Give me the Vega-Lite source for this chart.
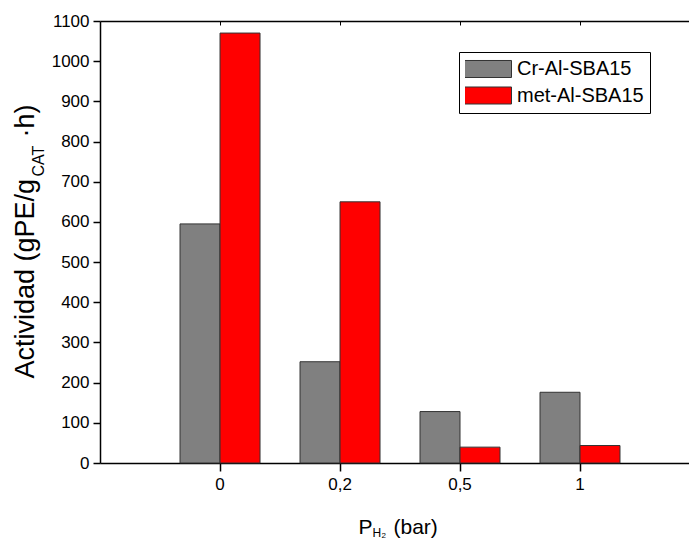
{
  "$schema": "https://vega.github.io/schema/vega-lite/v6.json",
  "width": 589,
  "height": 442,
  "autosize": "none",
  "padding": {"left": 100, "top": 21, "right": 0, "bottom": 77},
  "background": "white",
  "config": {
    "view": {"stroke": null},
    "font": "Liberation Sans",
    "axis": {
      "grid": false,
      "domainColor": "black",
      "tickColor": "black",
      "labelColor": "black",
      "titleColor": "black",
      "labelFont": "Liberation Sans",
      "titleFont": "Liberation Sans",
      "titleFontWeight": "normal"
    }
  },
  "data": {
    "values": [
      {"cat": "0", "series": "Cr-Al-SBA15", "value": 595},
      {"cat": "0", "series": "met-Al-SBA15", "value": 1070},
      {"cat": "0,2", "series": "Cr-Al-SBA15", "value": 252},
      {"cat": "0,2", "series": "met-Al-SBA15", "value": 650},
      {"cat": "0,5", "series": "Cr-Al-SBA15", "value": 128},
      {"cat": "0,5", "series": "met-Al-SBA15", "value": 39.5},
      {"cat": "1", "series": "Cr-Al-SBA15", "value": 176},
      {"cat": "1", "series": "met-Al-SBA15", "value": 43.5}
    ]
  },
  "layer": [
    {
      "mark": {"type": "bar", "stroke": "#333333", "strokeWidth": 1},
      "encoding": {
        "x": {
          "field": "cat", "type": "nominal",
          "scale": {"paddingInner": 0.3333, "paddingOuter": 0.621, "align": 0.537},
          "axis": {"orient": "bottom", "title": null, "labelAngle": 0, "labelFontSize": 17, "tickSize": 8, "tickWidth": 1.5, "domainWidth": 1.5, "labelPadding": 5}
        },
        "xOffset": {"field": "series", "type": "nominal", "scale": {"paddingInner": 0, "paddingOuter": 0}},
        "y": {
          "field": "value", "type": "quantitative",
          "scale": {"domain": [0, 1100], "nice": false},
          "axis": {"orient": "left", "title": null, "format": "d", "values": [0, 100, 200, 300, 400, 500, 600, 700, 800, 900, 1000, 1100], "labelFontSize": 17, "tickSize": 7, "tickWidth": 1.5, "domainWidth": 1.5, "labelPadding": 4}
        },
        "color": {
          "field": "series", "type": "nominal",
          "scale": {"domain": ["Cr-Al-SBA15", "met-Al-SBA15"], "range": ["#808080", "#ff0000"]},
          "legend": {
            "orient": "none", "legendX": 359, "legendY": 31, "title": null,
            "strokeColor": "black", "fillColor": "white", "padding": 6,
            "symbolType": "M-1,-0.362H1V0.362H-1Z", "symbolSize": 2209,
            "symbolStrokeColor": "#333333", "symbolStrokeWidth": 1,
            "symbolOffset": -1, "labelOffset": 5, "clipHeight": 22,
            "labelFontSize": 20, "labelFont": "Liberation Sans", "labelColor": "black",
            "rowPadding": 4.5
          }
        }
      }
    },
    {
      "mark": {"type": "point", "opacity": 0},
      "encoding": {
        "x": {"field": "cat", "type": "nominal", "axis": {"orient": "top", "title": null, "labels": false, "tickSize": -4, "tickWidth": 1, "domainWidth": 1.5}},
        "y": {"field": "value", "type": "quantitative", "axis": {"orient": "left", "domain": false, "ticks": false, "labels": false, "title": "Actividad (gPE/g", "titleX": -67, "titleY": 357, "titleAngle": 270, "titleAlign": "left", "titleBaseline": "alphabetic", "titleFontSize": 27}}
      }
    },
    {
      "mark": {"type": "point", "opacity": 0},
      "encoding": {
        "x": {"field": "cat", "type": "nominal", "axis": {"orient": "bottom", "domain": false, "ticks": false, "labels": false, "title": "P", "titleX": 258, "titleY": 70, "titleAngle": 0, "titleAlign": "left", "titleBaseline": "alphabetic", "titleFontSize": 21}},
        "y": {"field": "value", "type": "quantitative", "axis": {"orient": "left", "domain": false, "ticks": false, "labels": false, "title": "CAT", "titleX": -57, "titleY": 155, "titleAngle": 270, "titleAlign": "left", "titleBaseline": "alphabetic", "titleFontSize": 16}}
      }
    },
    {
      "mark": {"type": "point", "opacity": 0},
      "encoding": {
        "x": {"field": "cat", "type": "nominal", "axis": {"orient": "bottom", "domain": false, "ticks": false, "labels": false, "title": "H", "titleX": 272, "titleY": 73, "titleAngle": 0, "titleAlign": "left", "titleBaseline": "alphabetic", "titleFontSize": 12}},
        "y": {"field": "value", "type": "quantitative", "axis": {"orient": "left", "domain": false, "ticks": false, "labels": false, "title": "·h)", "titleX": -67, "titleY": 116, "titleAngle": 270, "titleAlign": "left", "titleBaseline": "alphabetic", "titleFontSize": 27}}
      }
    },
    {
      "mark": {"type": "point", "opacity": 0},
      "encoding": {
        "x": {"field": "cat", "type": "nominal", "axis": {"orient": "bottom", "domain": false, "ticks": false, "labels": false, "title": "2", "titleX": 281, "titleY": 74, "titleAngle": 0, "titleAlign": "left", "titleBaseline": "alphabetic", "titleFontSize": 8}},
        "y": {"field": "value", "type": "quantitative", "axis": null}
      }
    },
    {
      "mark": {"type": "point", "opacity": 0},
      "encoding": {
        "x": {"field": "cat", "type": "nominal", "axis": {"orient": "bottom", "domain": false, "ticks": false, "labels": false, "title": "(bar)", "titleX": 293, "titleY": 70, "titleAngle": 0, "titleAlign": "left", "titleBaseline": "alphabetic", "titleFontSize": 21}},
        "y": {"field": "value", "type": "quantitative", "axis": null}
      }
    }
  ],
  "resolve": {"axis": {"x": "independent", "y": "independent"}}
}
